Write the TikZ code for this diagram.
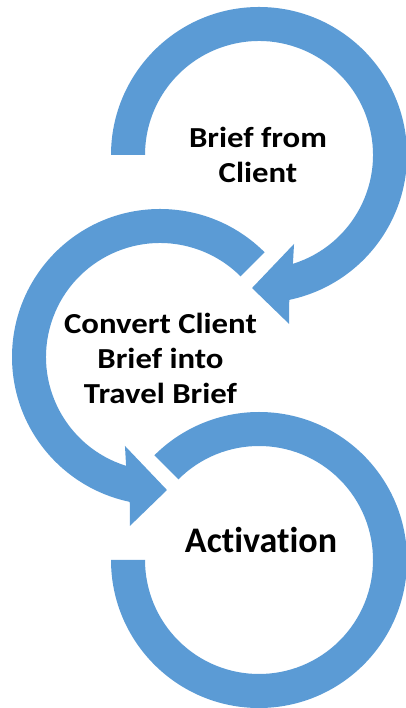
\documentclass[tikz,border=0pt]{standalone}
\usepackage{fontspec}
\setmainfont{Carlito}[Ligatures={NoCommon,NoContextual}]
\newfontfamily\wideface{Carlito}[FakeStretch=1.13,Ligatures={NoCommon,NoContextual}]
\usetikzlibrary{calc}
\definecolor{ringblue}{HTML}{5B9BD5}

\begin{document}
\begin{tikzpicture}
  [x=1pt,y=1pt,every node/.style={font=\bfseries,align=center,inner sep=0pt},
   ring/.style={fill=ringblue,draw=none},
   steplabel/.style={font=\wideface\bfseries\fontsize{29}{35}\selectfont}]
  \useasboundingbox (0,0) rectangle (405,708);
  \coordinate (c1) at (259,553);
  \coordinate (c2) at (160,351);
  \coordinate (c3) at (259,148);

  % top ring, runs clockwise and ends in a head pointing left
  \fill[ring] ($(c1)+(180:148)$) arc[start angle=180,end angle=-78.2,radius=148]
    -- ($(c1)+(-79.9:171.6)$) -- ($(c1)+(-93:133.2)$) -- ($(c1)+(-68.5:95.6)$)
    -- ($(c1)+(-72.7:114)$) arc[start angle=-72.7,end angle=180,radius=114] -- cycle;

  % middle ring, mirror of the top one
  \fill[ring] ($(c2)+(45:148)$) arc[start angle=45,end angle=258.2,radius=148]
    -- ($(c2)+(259.9:171.6)$) -- ($(c2)+(273:133.2)$) -- ($(c2)+(248.5:95.6)$)
    -- ($(c2)+(252.7:114)$) arc[start angle=252.7,end angle=45,radius=114] -- cycle;

  % bottom ring, no head
  \fill[ring] ($(c3)+(180:148)$) arc[start angle=180,end angle=495,radius=148]
    -- ($(c3)+(135:114)$) arc[start angle=495,end angle=180,radius=114] -- cycle;

  \node[steplabel] (brief) at (258,553) {Brief from\\Client};
  \node[steplabel] (convert) at (160.5,350) {Convert Client\\Brief into\\Travel Brief};
  \node[font=\bfseries\fontsize{36}{43}\selectfont] (activ) at (261,168) {Activation};
\end{tikzpicture}
\end{document}
